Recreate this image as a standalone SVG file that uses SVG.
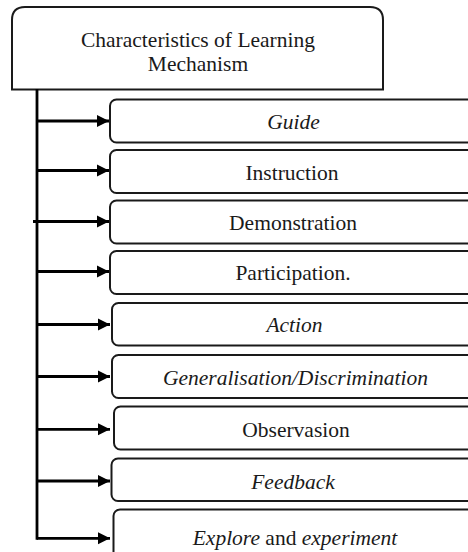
<svg xmlns="http://www.w3.org/2000/svg" width="468" height="552" viewBox="0 0 468 552">
<style>
text{font-family:'Liberation Serif','DejaVu Serif',serif;font-size:21.5px;fill:#1a1a1a;text-anchor:middle}
.i{font-style:italic}
.box{fill:#fff;stroke:#1a1a1a;stroke-width:2}
.c{stroke:#000;stroke-width:2.8;fill:none}
</style>
<defs>
<marker id="ah" markerUnits="userSpaceOnUse" markerWidth="14" markerHeight="14" refX="12" refY="7" orient="auto" overflow="visible">
<path d="M0,1 L12,7 L0,13 Z" fill="#000"/>
</marker>
</defs>
<rect width="468" height="552" fill="#fff"/>
<g id="title">
<path class="box" stroke-width="2.6" d="M12,89.5 V20 Q12,7 25,7 H370 Q383,7 383,20 V89.5 Z"/>
<text x="198" y="47">Characteristics of Learning</text>
<text x="198" y="71">Mechanism</text>
</g>
<g id="connectors">
<path class="c" d="M37,89 V538.3 H38"/>
<path class="c" marker-end="url(#ah)" d="M37,121 H109"/>
<path class="c" marker-end="url(#ah)" d="M37,170.5 H109"/>
<path class="c" marker-end="url(#ah)" d="M33,221.5 H109"/>
<path class="c" marker-end="url(#ah)" d="M37,271.5 H109"/>
<path class="c" marker-end="url(#ah)" d="M37,324.5 H110"/>
<path class="c" marker-end="url(#ah)" d="M37,376.5 H110"/>
<path class="c" marker-end="url(#ah)" d="M37,429.3 H110"/>
<path class="c" marker-end="url(#ah)" d="M37,481 H110"/>
<path class="c" marker-end="url(#ah)" d="M37,538.3 H110"/>
</g>
<g id="guide">
<rect class="box" x="110" y="99.5" width="380" height="43" rx="6.5"/>
<text class="i" x="293.5" y="129">Guide</text>
</g>
<g id="instruction">
<rect class="box" x="110" y="150" width="380" height="43" rx="6.5"/>
<text x="292" y="180">Instruction</text>
</g>
<g id="demonstration">
<rect class="box" x="110" y="200.5" width="380" height="43" rx="6.5"/>
<text x="293" y="230">Demonstration</text>
</g>
<g id="participation">
<rect class="box" x="110" y="251" width="380" height="43" rx="6.5"/>
<text x="293" y="280">Participation.</text>
</g>
<g id="action">
<rect class="box" x="112" y="303" width="380" height="42.5" rx="6.5"/>
<text class="i" x="294.5" y="332">Action</text>
</g>
<g id="generalisation">
<rect class="box" x="112" y="355" width="380" height="43" rx="6.5"/>
<text class="i" x="295.5" y="384.5">Generalisation/Discrimination</text>
</g>
<g id="observasion">
<rect class="box" x="114" y="406.5" width="380" height="43" rx="6.5"/>
<text x="296" y="437">Observasion</text>
</g>
<g id="feedback">
<rect class="box" x="111.5" y="458.5" width="380" height="42.5" rx="6.5"/>
<text class="i" x="293" y="488.5">Feedback</text>
</g>
<g id="explore">
<rect class="box" x="113.5" y="509.5" width="380" height="50" rx="6.5"/>
<text x="295" y="545"><tspan class="i">Explore</tspan> and <tspan class="i">experiment</tspan></text>
</g>
</svg>
